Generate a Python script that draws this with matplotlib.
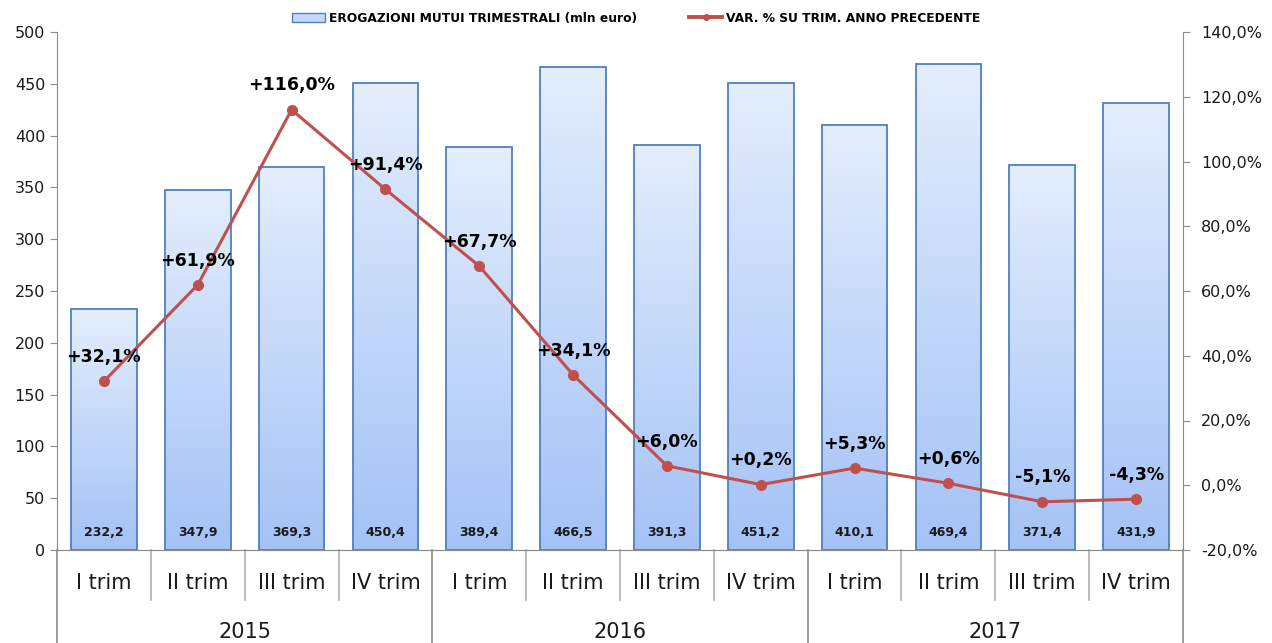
import numpy as np
import matplotlib
matplotlib.use("Agg")
import matplotlib.pyplot as plt
from matplotlib.colors import LinearSegmentedColormap
from matplotlib.patches import Patch
from matplotlib.lines import Line2D

# data
quarters = ["I trim", "II trim", "III trim", "IV trim"] * 3
years = ["2015", "2016", "2017"]
erogazioni = [232.2, 347.9, 369.3, 450.4, 389.4, 466.5, 391.3, 451.2, 410.1, 469.4, 371.4, 431.9]
var_pct = [32.1, 61.9, 116.0, 91.4, 67.7, 34.1, 6.0, 0.2, 5.3, 0.6, -5.1, -4.3]

def it(v, dec=1):
    return f"{v:.{dec}f}".replace(".", ",")

fig = plt.figure(figsize=(12.72, 6.43), dpi=100)
ax = fig.add_axes([57/1272, 93/643, (1183-57)/1272, 518/643])
ax2 = ax.twinx()

x = np.arange(len(erogazioni))
w = 0.7
grad_cmap = LinearSegmentedColormap.from_list("g", ["#a4c2f6", "#e4eefd"])
grad = np.linspace(0, 1, 256).reshape(-1, 1)
for xi, v in zip(x, erogazioni):
    ax.imshow(grad, extent=[xi - w/2, xi + w/2, 0, v], origin="lower",
              aspect="auto", cmap=grad_cmap, zorder=1)
bars = ax.bar(x, erogazioni, width=w, facecolor="none", edgecolor="#4f81bd",
              linewidth=1.3, zorder=2)
for xi, v in zip(x, erogazioni):
    ax.text(xi, 17, it(v), ha="center", va="center", fontsize=9,
            fontweight="bold", color="#1a1a1a", zorder=3)

ax.set_xlim(-0.5, len(x) - 0.5)
ax.set_ylim(0, 500)
ax.set_yticks(range(0, 501, 50))
ax.set_xticks([])

ax2.plot(x, var_pct, color="#c0504d", linewidth=2.2, marker="o", markersize=7,
         zorder=4)
for xi, p in zip(x, var_pct):
    lab = ("+" if p >= 0 else "") + it(p) + "%"
    ax2.text(xi, p + 7.5, lab, ha="center", va="center", fontsize=12.5,
             fontweight="bold", color="black", zorder=5)
ax2.set_ylim(-20, 140)
ax2.set_yticks(range(-20, 141, 20))
ax2.set_yticklabels([it(t) + "%" for t in range(-20, 141, 20)])

axis_col = "#8c8c8c"
for a in (ax, ax2):
    a.spines["top"].set_visible(False)
    for s in ("left", "right", "bottom"):
        a.spines[s].set_color(axis_col)
    a.tick_params(colors=axis_col, labelcolor="#1a1a1a", labelsize=11.5, length=5)
ax2.tick_params(pad=8)
ax2.spines["left"].set_visible(False)
ax.spines["right"].set_visible(False)

# category axis labels and separators
trans = ax.get_xaxis_transform()
for xi, q in zip(x, quarters):
    ax.text(xi, -33/518, q, transform=trans, ha="center", va="center",
            fontsize=15, color="#1a1a1a", clip_on=False)
for i, yr in enumerate(years):
    ax.text(4*i + 1.5, -82/518, yr, transform=trans, ha="center", va="center",
            fontsize=15, color="#1a1a1a", clip_on=False)
for b in np.arange(-0.5, len(x), 1.0):
    full = (b + 0.5) % 4 == 0
    ax.plot([b, b], [0, -93/518 if full else -50/518], transform=trans,
            color="#b0b0b0" if not full else axis_col, linewidth=1.2, clip_on=False)

handles = [Patch(facecolor="#c6d9f8", edgecolor="#4f81bd"),
           Line2D([0], [0], color="#c0504d", linewidth=2.8, marker="o", markersize=4)]
labels = ["EROGAZIONI MUTUI TRIMESTRALI (mln euro)", "VAR. % SU TRIM. ANNO PRECEDENTE"]
fig.legend(handles, labels, loc="upper center", bbox_to_anchor=(0.5, 0.999), ncol=2,
           frameon=False, prop={"weight": "bold", "size": 8.8},
           columnspacing=4.3, handlelength=2.7, handletextpad=0.3)

fig.savefig("out.png", dpi=100)
